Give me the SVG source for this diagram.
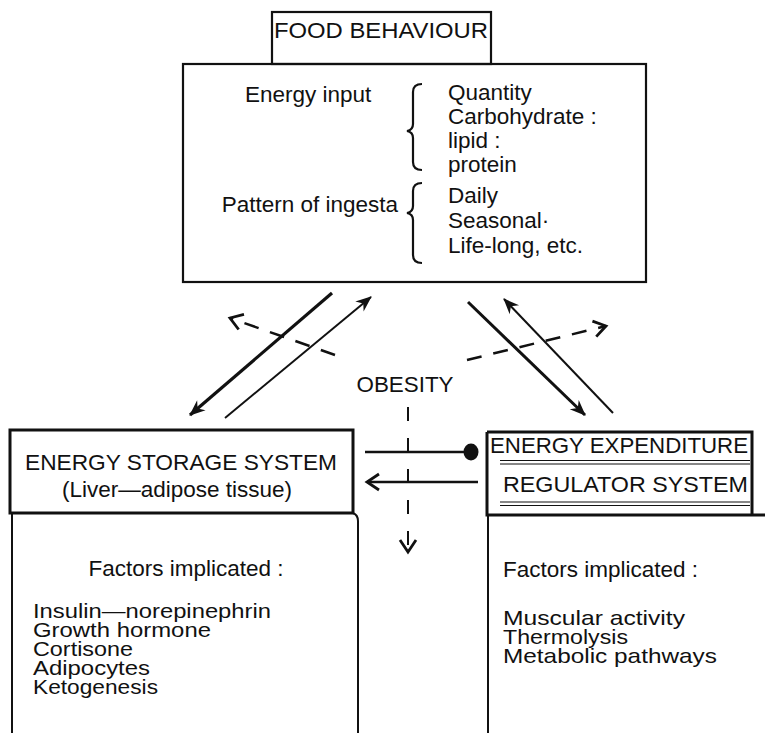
<svg xmlns="http://www.w3.org/2000/svg" width="765" height="733" viewBox="0 0 765 733">
<style>
text{font-family:"Liberation Sans",Arial,sans-serif;fill:#111;}
.t{font-size:22.5px;}
.s{font-size:21px;}
.box{fill:none;stroke:#111;stroke-width:2.2;}
.thick{fill:none;stroke:#111;stroke-width:3;}
.ln{fill:none;stroke:#111;}
.dash{fill:none;stroke:#111;stroke-width:2.5;stroke-dasharray:15 12;}
</style>
<defs>
<marker id="head" markerUnits="userSpaceOnUse" markerWidth="20" markerHeight="16" viewBox="-16 -8 18 16" refX="0" refY="0" orient="auto">
<path d="M1,0 L-15,-6.5 L-10,0 L-15,6.5 Z" fill="#111"/>
</marker>
<marker id="vee" markerUnits="userSpaceOnUse" markerWidth="22" markerHeight="22" viewBox="-16 -11 20 22" refX="0" refY="0" orient="auto">
<path d="M-12,-8 L0,0 L-12,8" fill="none" stroke="#111" stroke-width="2.8" stroke-linejoin="miter"/>
</marker>
</defs>

<g id="food-behaviour">
<rect class="box" x="272" y="12" width="219" height="52"/>
<text x="274" y="38" font-size="21.5" textLength="214" lengthAdjust="spacingAndGlyphs">FOOD BEHAVIOUR</text>
<rect class="box" x="183" y="64" width="463" height="218"/>
<text class="t" x="245" y="102">Energy input</text>
<path class="ln" stroke-width="2.2" d="M422,84 Q413,84 413,92 L413,124 Q413,130 407,131 Q413,132 413,138 L413,162 Q413,170 422,170"/>
<text class="t" x="448" y="100">Quantity</text>
<text class="t" x="448" y="124">Carbohydrate :</text>
<text class="t" x="448" y="148">lipid :</text>
<text class="t" x="448" y="172">protein</text>
<text class="t" x="398" y="212" text-anchor="end">Pattern of ingesta</text>
<path class="ln" stroke-width="2.2" d="M422,183 Q413,183 413,191 L413,206 Q413,212 407,213 Q413,214 413,220 L413,255 Q413,263 422,263"/>
<text class="t" x="448" y="203">Daily</text>
<text class="t" x="448" y="228">Seasonal·</text>
<text class="t" x="448" y="253">Life-long, etc.</text>
</g>

<g id="obesity">
<text x="405" y="392" font-size="21.5" text-anchor="middle" textLength="97" lengthAdjust="spacingAndGlyphs">OBESITY</text>
</g>

<g id="energy-storage">
<rect class="thick" x="10" y="430" width="343" height="83"/>
<text class="t" x="181" y="470" text-anchor="middle" textLength="312" lengthAdjust="spacingAndGlyphs">ENERGY STORAGE SYSTEM</text>
<text class="t" x="177" y="497" text-anchor="middle">(Liver—adipose tissue)</text>
<path class="ln" stroke-width="2" d="M12,513 L12,733 M353,513 Q358,515 358,521 L358,733"/>
<text class="t" x="186" y="576" text-anchor="middle">Factors implicated :</text>
<text class="s" x="33" y="618" textLength="238" lengthAdjust="spacingAndGlyphs">Insulin—norepinephrin</text>
<text class="s" x="33" y="637" textLength="178" lengthAdjust="spacingAndGlyphs">Growth hormone</text>
<text class="s" x="33" y="656" textLength="100" lengthAdjust="spacingAndGlyphs">Cortisone</text>
<text class="s" x="33" y="675" textLength="117" lengthAdjust="spacingAndGlyphs">Adipocytes</text>
<text class="s" x="33" y="694" textLength="125" lengthAdjust="spacingAndGlyphs">Ketogenesis</text>
</g>

<g id="energy-expenditure">
<path class="thick" d="M487,432 L752,432 L752,515 M487,432 L487,515 L765,515"/>
<text class="t" x="490" y="453" textLength="258" lengthAdjust="spacingAndGlyphs">ENERGY EXPENDITURE</text>
<path class="ln" stroke-width="1.2" d="M500,460.5 L750,460.5 M500,464 L750,464"/>
<text class="t" x="503" y="492" textLength="245" lengthAdjust="spacingAndGlyphs">REGULATOR SYSTEM</text>
<path class="ln" stroke-width="1.2" d="M500,502 L750,502 M500,505.5 L750,505.5"/>
<path class="ln" stroke-width="2" d="M488,515 L488,733"/>
<text class="t" x="503" y="577">Factors implicated :</text>
<text class="s" x="503" y="625" textLength="182" lengthAdjust="spacingAndGlyphs">Muscular activity</text>
<text class="s" x="503" y="644" textLength="125" lengthAdjust="spacingAndGlyphs">Thermolysis</text>
<text class="s" x="503" y="663" textLength="214" lengthAdjust="spacingAndGlyphs">Metabolic pathways</text>
</g>

<g id="connectors">
<line class="ln" stroke-width="3.2" x1="332" y1="293" x2="190" y2="415" marker-end="url(#head)"/>
<line class="ln" stroke-width="2" x1="225" y1="418" x2="371" y2="297" marker-end="url(#head)"/>
<line class="dash" x1="335" y1="355" x2="230" y2="318" marker-end="url(#vee)"/>
<line class="ln" stroke-width="3" x1="468" y1="302" x2="585" y2="415" marker-end="url(#head)"/>
<line class="ln" stroke-width="2" x1="613" y1="413" x2="504" y2="299" marker-end="url(#head)"/>
<line class="dash" x1="467" y1="360" x2="606" y2="326" marker-end="url(#vee)"/>
<line class="ln" stroke-width="2.5" x1="365" y1="452" x2="465" y2="452"/>
<ellipse cx="471" cy="452" rx="7.5" ry="8.5" fill="#111"/>
<line class="ln" stroke-width="2.5" x1="478" y1="482" x2="367" y2="482" marker-end="url(#vee)"/>
<line class="ln" stroke-width="2" stroke-dasharray="14 17" x1="408" y1="407" x2="408" y2="552" marker-end="url(#vee)"/>
</g>
</svg>
